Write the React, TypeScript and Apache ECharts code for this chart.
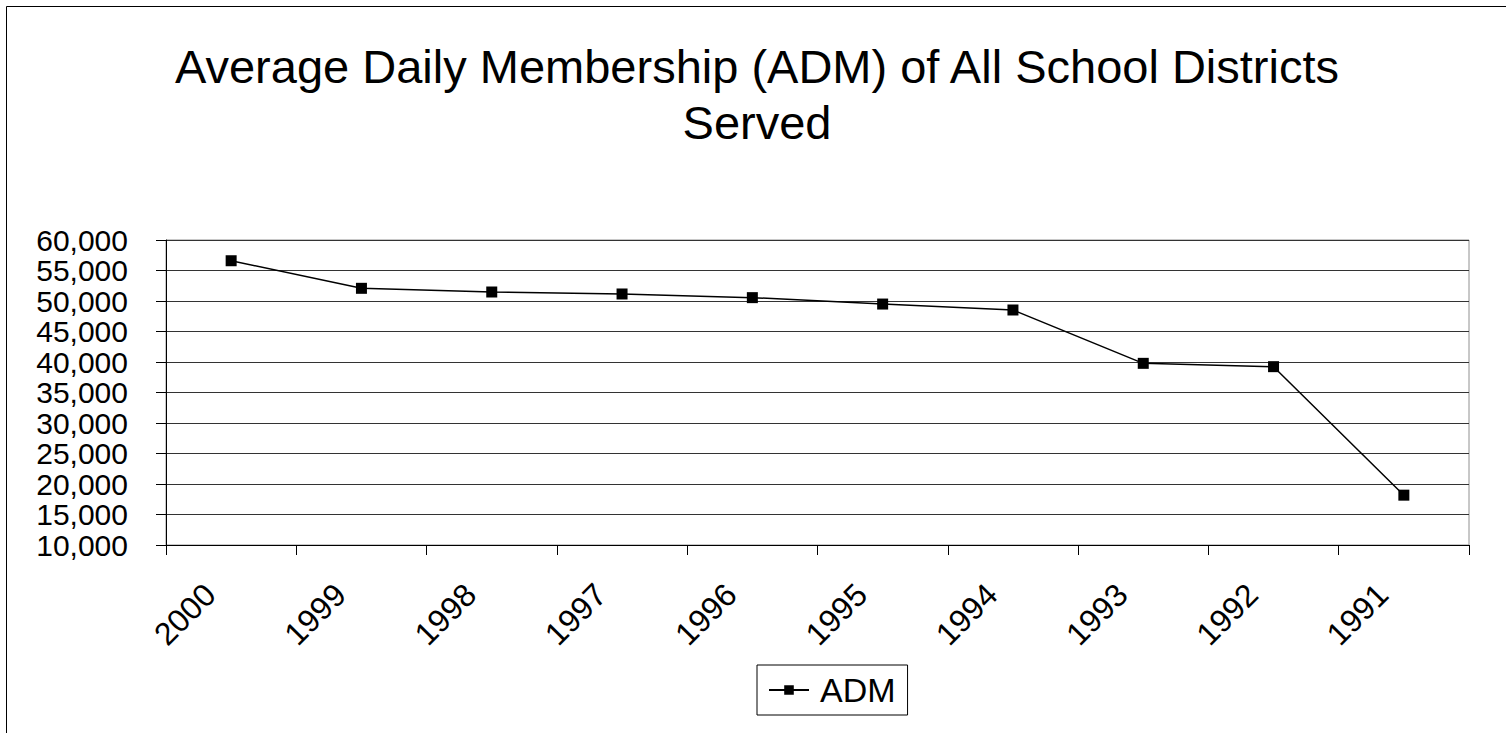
import React, { useEffect, useRef } from "react";
import * as echarts from "echarts";

const categories = ["2000", "1999", "1998", "1997", "1996", "1995", "1994", "1993", "1992", "1991"];
const admValues = [56600, 52080, 51475, 51150, 50550, 49500, 48525, 39780, 39235, 18170];
const yMin = 10000;
const yMax = 60000;
const yInterval = 5000;
const titleText = "Average Daily Membership (ADM) of All School Districts\nServed";
const seriesName = "ADM";

const FONT = "'Liberation Sans', Arial, Helvetica, sans-serif";

export default function App() {
  const ref = useRef<HTMLDivElement>(null);
  useEffect(() => {
    document.body.style.margin = "0";
    const chart = echarts.init(ref.current!, null, { renderer: "svg" });
    chart.setOption({
      animation: false,
      backgroundColor: "#fff",
      textStyle: { fontFamily: FONT, color: "#000" },
      title: {
        text: titleText,
        left: 757,
        textAlign: "center",
        top: 38,
        padding: 0,
        textStyle: { fontFamily: FONT, fontSize: 47, lineHeight: 56, fontWeight: "normal", color: "#000" },
      },
      graphic: [
        {
          type: "rect",
          shape: { x: 6.5, y: 6.5, width: 1501, height: 740 },
          style: { fill: "none", stroke: "#000", lineWidth: 1 },
          silent: true,
        },
      ],
      legend: {
        left: 757,
        top: 665,
        orient: "horizontal",
        padding: [7, 12, 7, 11],
        borderColor: "#000",
        borderWidth: 1,
        itemWidth: 40,
        itemHeight: 12,
        textStyle: { fontFamily: FONT, fontSize: 34, lineHeight: 36, color: "#000", padding: [0, 0, 0, 6] },
        data: [seriesName],
      },
      grid: {
        left: 166,
        right: 37,
        top: 240,
        bottom: 188,
        show: true,
        borderColor: "#909090",
        borderWidth: 1,
        containLabel: false,
      },
      xAxis: {
        type: "category",
        data: categories,
        boundaryGap: true,
        axisLine: { show: true, lineStyle: { color: "#000", width: 1 } },
        axisTick: { show: true, length: 10, inside: false, alignWithLabel: false, lineStyle: { color: "#000" } },
        axisLabel: {
          rotate: 45,
          margin: 23,
          padding: [0, 30, 0, 0],
          fontFamily: FONT,
          fontSize: 32,
          lineHeight: 30,
          color: "#000",
          interval: 0,
          hideOverlap: false,
        },
        splitLine: { show: false },
      },
      yAxis: {
        type: "value",
        min: yMin,
        max: yMax,
        interval: yInterval,
        axisLine: { show: true, lineStyle: { color: "#000", width: 1 } },
        axisTick: { show: true, length: 10, inside: false, lineStyle: { color: "#000" } },
        axisLabel: {
          margin: 38,
          fontFamily: FONT,
          fontSize: 30,
          color: "#000",
          formatter: (v: number) => v.toLocaleString("en-US"),
        },
        splitLine: { show: true, lineStyle: { color: "#333", width: 1 } },
      },
      series: [
        {
          name: seriesName,
          type: "line",
          data: admValues,
          symbol: "rect",
          symbolSize: 11,
          itemStyle: { color: "#000" },
          lineStyle: { color: "#000", width: 1.5 },
        },
      ],
    });
    return () => chart.dispose();
  }, []);
  return <div ref={ref} style={{ position: "fixed", left: 0, top: 0, width: 1506, height: 733 }} />;
}
